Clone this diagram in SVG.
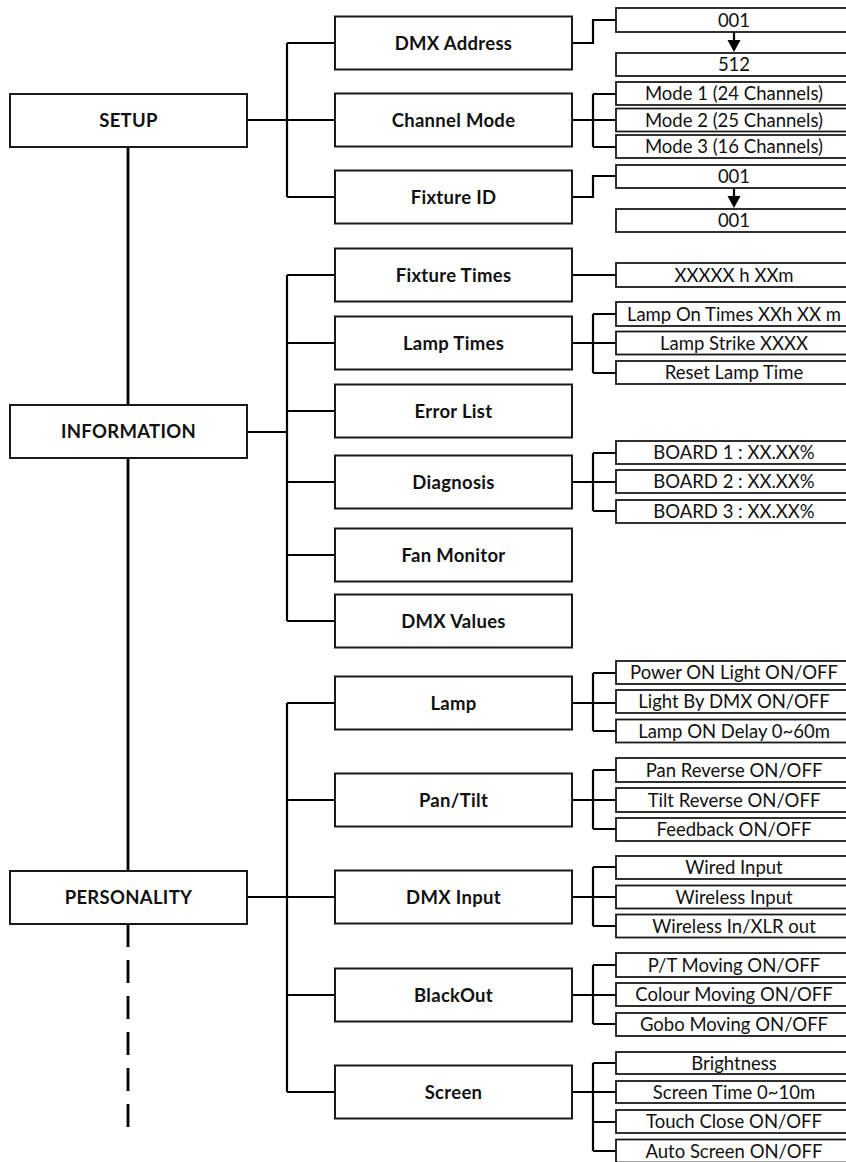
<svg xmlns="http://www.w3.org/2000/svg" width="846" height="1162" viewBox="0 0 846 1162">
<style>
.bx{fill:#fff;stroke:#1a1a1a;stroke-width:2}
.sb{fill:#fff;stroke:#1a1a1a;stroke-width:1.8}
.c{fill:none;stroke:#000;stroke-width:2.2}
.m{fill:none;stroke:#000;stroke-width:2.8}
.ah{fill:#000}
.t{font-family:Lato,"Liberation Sans",sans-serif;font-weight:bold;font-size:18.5px;letter-spacing:0.3px;fill:#111;text-anchor:middle}
.s{font-family:Lato,"Liberation Sans",sans-serif;font-size:18.5px;fill:#111;text-anchor:middle}
</style>
<g id="connectors">
<path class="m" d="M128,147 V871"/>
<path class="m" d="M128,924 V1128" stroke-dasharray="23 13"/>
<path class="c" d="M247,120 H287 M287,43 V197 M287,43 H335 M287,120 H335 M287,197 H335"/>
<path class="c" d="M247,432 H287 M287,275 V621 M287,275 H335 M287,343 H335 M287,411 H335 M287,482 H335 M287,555 H335 M287,621 H335"/>
<path class="c" d="M247,897 H287 M287,703 V1092 M287,703 H335 M287,800 H335 M287,897 H335 M287,995 H335 M287,1092 H335"/>
<path class="c" d="M572,43 H593 V20 H616"/>
<path class="c" d="M572,120 H616 M593,94 V147 M593,94 H616 M593,147 H616"/>
<path class="c" d="M572,197 H593 V176 H616"/>
<path class="c" d="M734,32 V41"/>
<polygon class="ah" points="727.5,40 740.5,40 734,52"/>
<path class="c" d="M734,188 V197"/>
<polygon class="ah" points="727.5,196 740.5,196 734,208"/>
<path class="c" d="M572,275 H616"/>
<path class="c" d="M572,343 H616 M593,314 V373 M593,314 H616 M593,373 H616"/>
<path class="c" d="M572,482 H616 M593,453 V511 M593,453 H616 M593,511 H616"/>
<path class="c" d="M572,703 H616 M593,673 V731 M593,673 H616 M593,731 H616"/>
<path class="c" d="M572,800 H616 M593,770 V829 M593,770 H616 M593,829 H616"/>
<path class="c" d="M572,897 H616 M593,867 V926 M593,867 H616 M593,926 H616"/>
<path class="c" d="M572,995 H616 M593,965 V1024 M593,965 H616 M593,1024 H616"/>
<path class="c" d="M572,1092 H616 M593,1063 V1151 M593,1063 H616 M593,1122 H616 M593,1151 H616"/>
</g>
<g id="setup"><rect class="bx" x="10" y="94" width="237" height="53"/><text class="t" x="128.5" y="127">SETUP</text></g>
<g id="information"><rect class="bx" x="10" y="405" width="237" height="53"/><text class="t" x="128.5" y="438">INFORMATION</text></g>
<g id="personality"><rect class="bx" x="10" y="871" width="237" height="53"/><text class="t" x="128.5" y="904">PERSONALITY</text></g>

<g id="dmx-address"><rect class="bx" x="335" y="16.5" width="237" height="53"/><text class="t" x="453.5" y="49.5">DMX Address</text></g>
<g id="channel-mode"><rect class="bx" x="335" y="93.5" width="237" height="53"/><text class="t" x="453.5" y="126.5">Channel Mode</text></g>
<g id="fixture-id"><rect class="bx" x="335" y="170.5" width="237" height="53"/><text class="t" x="453.5" y="203.5">Fixture ID</text></g>
<g id="fixture-times"><rect class="bx" x="335" y="248.5" width="237" height="53"/><text class="t" x="453.5" y="281.5">Fixture Times</text></g>
<g id="lamp-times"><rect class="bx" x="335" y="316.5" width="237" height="53"/><text class="t" x="453.5" y="349.5">Lamp Times</text></g>
<g id="error-list"><rect class="bx" x="335" y="384.5" width="237" height="53"/><text class="t" x="453.5" y="417.5">Error List</text></g>
<g id="diagnosis"><rect class="bx" x="335" y="455.5" width="237" height="53"/><text class="t" x="453.5" y="488.5">Diagnosis</text></g>
<g id="fan-monitor"><rect class="bx" x="335" y="528.5" width="237" height="53"/><text class="t" x="453.5" y="561.5">Fan Monitor</text></g>
<g id="dmx-values"><rect class="bx" x="335" y="594.5" width="237" height="53"/><text class="t" x="453.5" y="627.5">DMX Values</text></g>
<g id="lamp"><rect class="bx" x="335" y="676.5" width="237" height="53"/><text class="t" x="453.5" y="709.5">Lamp</text></g>
<g id="pan-tilt"><rect class="bx" x="335" y="773.5" width="237" height="53"/><text class="t" x="453.5" y="806.5">Pan/Tilt</text></g>
<g id="dmx-input"><rect class="bx" x="335" y="870.5" width="237" height="53"/><text class="t" x="453.5" y="903.5">DMX Input</text></g>
<g id="blackout"><rect class="bx" x="335" y="968.5" width="237" height="53"/><text class="t" x="453.5" y="1001.5">BlackOut</text></g>
<g id="screen"><rect class="bx" x="335" y="1065.5" width="237" height="53"/><text class="t" x="453.5" y="1098.5">Screen</text></g>

<g id="dmx-001"><rect class="sb" x="616" y="8" width="237" height="24"/><text class="s" x="734" y="26.5">001</text></g>
<g id="dmx-512"><rect class="sb" x="616" y="53" width="237" height="23"/><text class="s" x="734" y="71">512</text></g>
<g id="mode1"><rect class="sb" x="616" y="82" width="237" height="23"/><text class="s" x="734" y="100">Mode 1 (24 Channels)</text></g>
<g id="mode2"><rect class="sb" x="616" y="108.5" width="237" height="23"/><text class="s" x="734" y="126.5">Mode 2 (25 Channels)</text></g>
<g id="mode3"><rect class="sb" x="616" y="135" width="237" height="23"/><text class="s" x="734" y="153">Mode 3 (16 Channels)</text></g>
<g id="fid-001a"><rect class="sb" x="616" y="165" width="237" height="23"/><text class="s" x="734" y="183">001</text></g>
<g id="fid-001b"><rect class="sb" x="616" y="209" width="237" height="23"/><text class="s" x="734" y="227">001</text></g>
<g id="fixture-time-val"><rect class="sb" x="616" y="263" width="237" height="24"/><text class="s" x="734" y="281.5">XXXXX h XXm</text></g>
<g id="lamp-on-times"><rect class="sb" x="616" y="302" width="237" height="24"/><text class="s" x="734" y="320.5">Lamp On Times XXh XX m</text></g>
<g id="lamp-strike"><rect class="sb" x="616" y="331.5" width="237" height="23"/><text class="s" x="734" y="349.5">Lamp Strike XXXX</text></g>
<g id="reset-lamp"><rect class="sb" x="616" y="361" width="237" height="23"/><text class="s" x="734" y="379">Reset Lamp Time</text></g>
<g id="board1"><rect class="sb" x="616" y="441" width="237" height="23"/><text class="s" x="734" y="459">BOARD 1 : XX.XX%</text></g>
<g id="board2"><rect class="sb" x="616" y="470" width="237" height="23"/><text class="s" x="734" y="488">BOARD 2 : XX.XX%</text></g>
<g id="board3"><rect class="sb" x="616" y="500" width="237" height="23"/><text class="s" x="734" y="518">BOARD 3 : XX.XX%</text></g>
<g id="power-on-light"><rect class="sb" x="616" y="661" width="237" height="23"/><text class="s" x="734" y="679">Power ON Light ON/OFF</text></g>
<g id="light-by-dmx"><rect class="sb" x="616" y="690" width="237" height="23"/><text class="s" x="734" y="708">Light By DMX ON/OFF</text></g>
<g id="lamp-on-delay"><rect class="sb" x="616" y="719.5" width="237" height="23"/><text class="s" x="734" y="737.5">Lamp ON Delay 0~60m</text></g>
<g id="pan-reverse"><rect class="sb" x="616" y="758" width="237" height="24"/><text class="s" x="734" y="776.5">Pan Reverse ON/OFF</text></g>
<g id="tilt-reverse"><rect class="sb" x="616" y="788" width="237" height="24"/><text class="s" x="734" y="806.5">Tilt Reverse ON/OFF</text></g>
<g id="feedback"><rect class="sb" x="616" y="818" width="237" height="23"/><text class="s" x="734" y="836">Feedback ON/OFF</text></g>
<g id="wired-input"><rect class="sb" x="616" y="856" width="237" height="23"/><text class="s" x="734" y="874">Wired Input</text></g>
<g id="wireless-input"><rect class="sb" x="616" y="885.5" width="237" height="23"/><text class="s" x="734" y="903.5">Wireless Input</text></g>
<g id="wireless-xlr"><rect class="sb" x="616" y="914.5" width="237" height="23"/><text class="s" x="734" y="932.5">Wireless In/XLR out</text></g>
<g id="pt-moving"><rect class="sb" x="616" y="953" width="237" height="24"/><text class="s" x="734" y="971.5">P/T Moving ON/OFF</text></g>
<g id="colour-moving"><rect class="sb" x="616" y="983" width="237" height="23"/><text class="s" x="734" y="1001">Colour Moving ON/OFF</text></g>
<g id="gobo-moving"><rect class="sb" x="616" y="1013" width="237" height="23"/><text class="s" x="734" y="1031">Gobo Moving ON/OFF</text></g>
<g id="brightness"><rect class="sb" x="616" y="1052" width="237" height="22"/><text class="s" x="734" y="1069.5">Brightness</text></g>
<g id="screen-time"><rect class="sb" x="616" y="1081" width="237" height="22"/><text class="s" x="734" y="1098.5">Screen Time 0~10m</text></g>
<g id="touch-close"><rect class="sb" x="616" y="1110" width="237" height="23"/><text class="s" x="734" y="1128">Touch Close ON/OFF</text></g>
<g id="auto-screen"><rect class="sb" x="616" y="1139.5" width="237" height="23"/><text class="s" x="734" y="1157.5">Auto Screen ON/OFF</text></g>
</svg>
